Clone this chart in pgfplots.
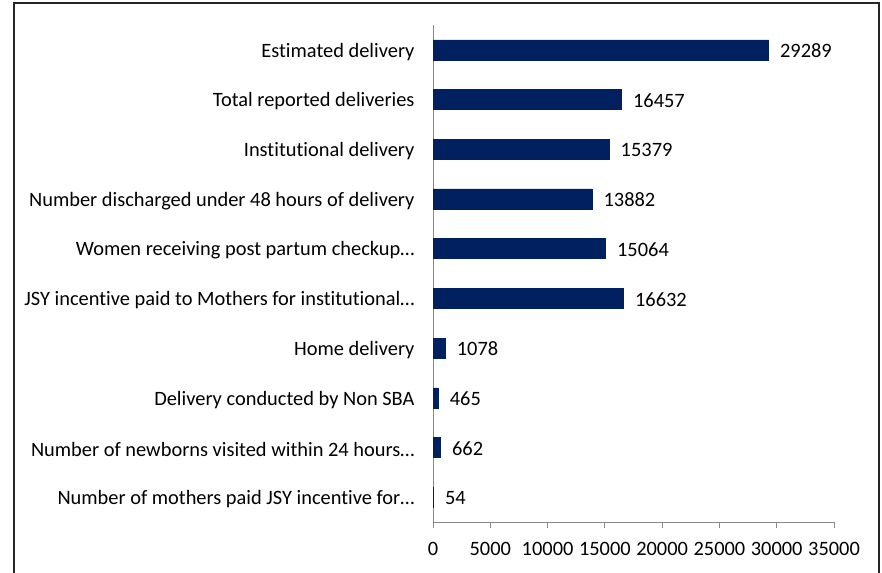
\documentclass[border=0pt]{standalone}
\usepackage{fontspec}
\setmainfont{Carlito}[Ligatures={NoCommon}]
\usepackage{pgfplots}
\pgfplotsset{compat=1.18}
\definecolor{barnavy}{RGB}{0,32,96}
\definecolor{axgray}{RGB}{137,137,137}

\begin{document}
\begin{tikzpicture}
\useasboundingbox (0pt,0pt) rectangle (882pt,572pt);
\draw[line width=1.3pt,black!85] (14pt,-20pt) rectangle (879pt,569pt);
\begin{axis}[at={(433pt,50pt)},anchor=south west,scale only axis,
  width=401pt,height=497pt,
  xbar,bar width=20pt,
  xmin=0,xmax=35000,ymin=-0.5,ymax=9.5,y dir=reverse,
  axis lines*=left,axis line style={draw=axgray,line width=1pt,-},
  xtick={0,5000,...,35000},scaled x ticks=false,
  ytick={0,...,9},
  yticklabels={Estimated delivery,Total reported deliveries,Institutional delivery,
    Number discharged under 48 hours of delivery,Women receiving post partum checkup…,
    JSY incentive paid to Mothers for institutional…,Home delivery,
    Delivery conducted by Non SBA,Number of newborns visited within 24 hours…,
    Number of mothers paid JSY incentive for…},
  minor ytick={-0.5,0.5,...,9.5},
  tick align=outside,major tick length=6pt,minor tick length=7pt,
  ytick style={draw=none},minor tick style={draw=axgray,line width=1pt},
  xtick style={draw=axgray,line width=1pt},
  /pgf/number format/assume math mode=true,
  /pgf/number format/1000 sep={},
  tick label style={font=\fontsize{20.4}{24}\selectfont,text=black},
  xticklabel style={yshift=-11pt},
  yticklabel style={xshift=-9pt,yshift=-2pt},
  nodes near coords,point meta=x,
  nodes near coords style={font=\fontsize{20.4}{24}\selectfont,anchor=west,xshift=8pt,yshift=-1pt,text=black},
]
\addplot[draw=barnavy,fill=barnavy] coordinates {
  (29289,0) (16457,1) (15379,2) (13882,3) (15064,4)
  (16632,5) (1078,6) (465,7) (662,8) (54,9)};
\end{axis}
\end{tikzpicture}
\end{document}
